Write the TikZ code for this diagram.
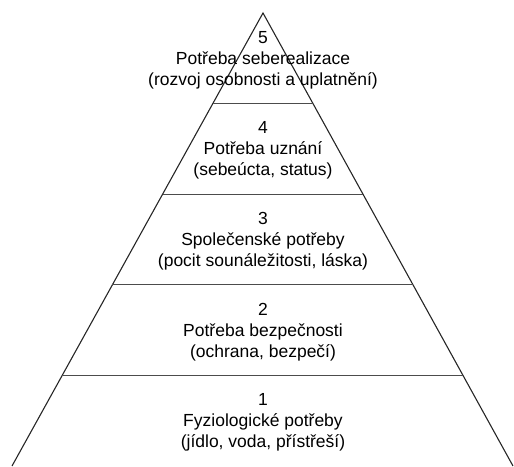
\documentclass[tikz,border=0pt]{standalone}
\usepackage{fontspec}
\setmainfont{Liberation Sans}
\usetikzlibrary{calc}

\begin{document}
\begin{tikzpicture}
  [x=1pt,y=-1pt,every node/.style={align=center,font=\fontsize{17.5}{21}\selectfont},
   edge/.style={line width=1.1pt,black!85},
   level/.style={line width=1.3pt,black!70}]
  \useasboundingbox (0,0) rectangle (514,466);
  \coordinate (top) at (263,13);
  \coordinate (bl)  at (12,466);
  \coordinate (br)  at (513,466);

  \draw[edge] (bl) -- (top) -- (br);
  \foreach \k in {1,...,4}
    \draw[level] ($(top)!\k/5!(bl)$) -- ($(top)!\k/5!(br)$);

  \node (l5) at (263,60)  {5\\Potřeba seberealizace\\(rozvoj osobnosti a uplatnění)};
  \node (l4) at (263,150) {4\\Potřeba uznání\\(sebeúcta, status)};
  \node (l3) at (263,241) {3\\Společenské potřeby\\(pocit sounáležitosti, láska)};
  \node (l2) at (263,332) {2\\Potřeba bezpečnosti\\(ochrana, bezpečí)};
  \node (l1) at (263,422) {1\\Fyziologické potřeby\\(jídlo, voda, přístřeší)};
\end{tikzpicture}
\end{document}
